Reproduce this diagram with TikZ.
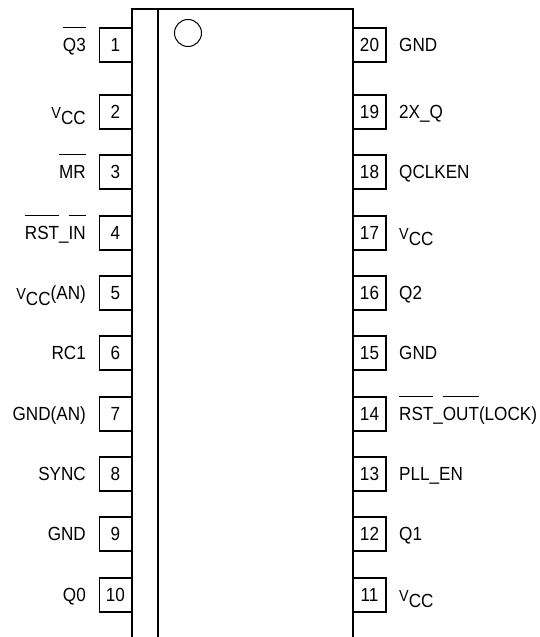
\documentclass[tikz,border=0pt]{standalone}
\usepackage{fontspec}
\setmainfont[FakeStretch=0.9]{Liberation Sans}
\newcommand{\ovl}[1]{\setbox0\hbox{#1}\rlap{\vrule height 24.2pt depth -23.4pt width \wd0}\box0}
\newcommand{\vcc}{{\fontsize{16}{18}\selectfont V}\raisebox{-6pt}{CC}}
\tikzset{
  x=1pt,y=-1pt,
  pinbox/.style={draw=black,line width=1.4pt,minimum width=33pt,minimum height=34pt,inner sep=0pt,outer sep=0pt,anchor=north west},
  body/.style={draw=black,line width=2pt},
  num/.style={inner sep=0pt,anchor=base,font=\fontsize{19}{21}\selectfont},
  leftlab/.style={inner sep=0pt,anchor=base east,font=\fontsize{19}{21}\selectfont},
  rightlab/.style={inner sep=0pt,anchor=base west,font=\fontsize{19}{21}\selectfont},
}
\begin{document}
\begin{tikzpicture}
\useasboundingbox (0,0) rectangle (540,637);
\fill[white] (0,0) rectangle (540,637);
% pins
\foreach \n/\y/\t in {1/28/{\ovl{Q3}},2/95/{\vcc},3/155/{\ovl{MR}},4/216/{\ovl{RST}\_\ovl{IN}},5/276/{\vcc(AN)},6/336/{RC1},7/397/{GND(AN)},8/457/{SYNC},9/517/{GND},10/578/{Q0}}{
  \node[pinbox] (p\n) at (99.5,\y) {};
  \node[num] (n\n) at (115.5,\y+23) {\n};
  \node[leftlab] (l\n) at (86,\y+23) {\t};
}
\foreach \n/\y/\t in {20/28/{GND},19/95/{2X\_Q},18/155/{QCLKEN},17/216/{\vcc},16/276/{Q2},15/336/{GND},14/397/{\ovl{RST}\_\ovl{OUT}(LOCK)},13/457/{PLL\_EN},12/517/{Q1},11/578/{\vcc}}{
  \node[pinbox] (p\n) at (353,\y) {};
  \node[num] (n\n) at (369.5,\y+23) {\n};
  \node[rightlab] (l\n) at (399,\y+23) {\t};
}
% body
\draw[body] (132,640) -- (132,9) -- (353,9) -- (353,640);
\draw[body] (158,9) -- (158,640);
\node[draw=black,line width=1pt,circle,minimum size=27pt,inner sep=0pt] (dot) at (188,33) {};
\end{tikzpicture}
\end{document}
